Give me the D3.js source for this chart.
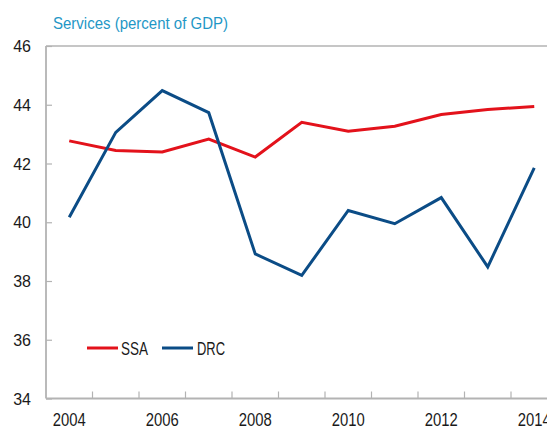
<!DOCTYPE html>
<html>
<head>
<meta charset="utf-8">
<script src="https://cdn.jsdelivr.net/npm/d3@7"></script>
<style>
  html, body { margin: 0; padding: 0; background: #fff; }
  svg { display: block; font-family: "Liberation Sans", Arial, sans-serif; }
</style>
</head>
<body>
<svg id="chart" width="547" height="439"></svg>
<script>
// Services share of GDP, 2004-2014
const years = [2004, 2005, 2006, 2007, 2008, 2009, 2010, 2011, 2012, 2013, 2014];
const ssa = [42.77, 42.44, 42.39, 42.83, 42.22, 43.40, 43.10, 43.27, 43.67, 43.84, 43.94];
const drc = [40.17, 43.06, 44.48, 43.73, 38.92, 38.19, 40.40, 39.95, 40.84, 38.48, 41.85];
const yTicks = [34, 36, 38, 40, 42, 44, 46];
const xLabels = [2004, 2006, 2008, 2010, 2012, 2014];
const seriesNames = ["SSA", "DRC"];
const titleText = "Services (percent of GDP)";

const colors = { SSA: "#e3121b", DRC: "#0b4c86" };
const axisColor = "#b3b3b3";

const svg = d3.select("#chart");
const plotLeft = 46, plotTop = 46, plotBottom = 398.5, step = 46.5;

const x = d3.scaleBand()
  .domain(years)
  .range([plotLeft, plotLeft + step * years.length])
  .padding(0);
const cx = d => x(d) + x.bandwidth() / 2;

const y = d3.scaleLinear().domain([34, 46]).range([plotBottom, plotTop]);

// title
svg.append("text")
  .attr("x", 53).attr("y", 29)
  .attr("font-size", 17)
  .attr("fill", "#1f97c6")
  .attr("textLength", 175)
  .attr("lengthAdjust", "spacingAndGlyphs")
  .text(titleText);

// plot frame top edge
svg.append("line")
  .attr("x1", plotLeft).attr("x2", 547)
  .attr("y1", y(46)).attr("y2", y(46))
  .attr("stroke", axisColor).attr("stroke-width", 1.5);

// y axis
const yAxis = svg.append("g").attr("transform", `translate(${plotLeft},0)`)
  .call(d3.axisRight(y).tickValues(yTicks).tickSize(6).tickFormat(""));
yAxis.select(".domain").remove();
yAxis.selectAll("line").attr("stroke", axisColor).attr("stroke-width", 1.2);
svg.append("line")
  .attr("x1", plotLeft).attr("x2", plotLeft)
  .attr("y1", plotTop).attr("y2", plotBottom)
  .attr("stroke", axisColor).attr("stroke-width", 1.8);

svg.append("g").selectAll("text").data(yTicks).join("text")
  .attr("x", 31).attr("y", d => y(d) + 6)
  .attr("text-anchor", "end")
  .attr("font-size", 16)
  .attr("fill", "#1a1a1a")
  .text(d => d);

// x axis: ticks sit between categories
const boundaries = years.slice(1).map(d => x(d));
svg.append("g").selectAll("line").data(boundaries).join("line")
  .attr("x1", d => d).attr("x2", d => d)
  .attr("y1", plotBottom).attr("y2", plotBottom - 7)
  .attr("stroke", axisColor).attr("stroke-width", 1.2);
svg.append("line")
  .attr("x1", plotLeft).attr("x2", 547)
  .attr("y1", plotBottom).attr("y2", plotBottom)
  .attr("stroke", axisColor).attr("stroke-width", 1.8);

svg.append("g").selectAll("text").data(xLabels).join("text")
  .attr("x", d => cx(d)).attr("y", 426)
  .attr("text-anchor", "middle")
  .attr("font-size", 18)
  .attr("fill", "#1a1a1a")
  .attr("textLength", 33)
  .attr("lengthAdjust", "spacingAndGlyphs")
  .text(d => d);

// series lines
const line = d3.line().x((d, i) => cx(years[i])).y(d => y(d));
const seriesData = { SSA: ssa, DRC: drc };
seriesNames.forEach(name => {
  svg.append("path")
    .datum(seriesData[name])
    .attr("d", line)
    .attr("fill", "none")
    .attr("stroke", colors[name])
    .attr("stroke-width", 3)
    .attr("stroke-linejoin", "miter");
});

// legend
const legendItems = [
  { name: "SSA", x0: 87, x1: 118, tx: 121, w: 27 },
  { name: "DRC", x0: 162, x1: 193, tx: 197, w: 28 }
];
const lg = svg.append("g");
legendItems.forEach(it => {
  lg.append("line")
    .attr("x1", it.x0).attr("x2", it.x1)
    .attr("y1", 348).attr("y2", 348)
    .attr("stroke", colors[it.name]).attr("stroke-width", 3);
  lg.append("text")
    .attr("x", it.tx).attr("y", 355)
    .attr("font-size", 18)
    .attr("fill", "#1a1a1a")
    .attr("textLength", it.w)
    .attr("lengthAdjust", "spacingAndGlyphs")
    .text(it.name);
});
</script>
</body>
</html>
